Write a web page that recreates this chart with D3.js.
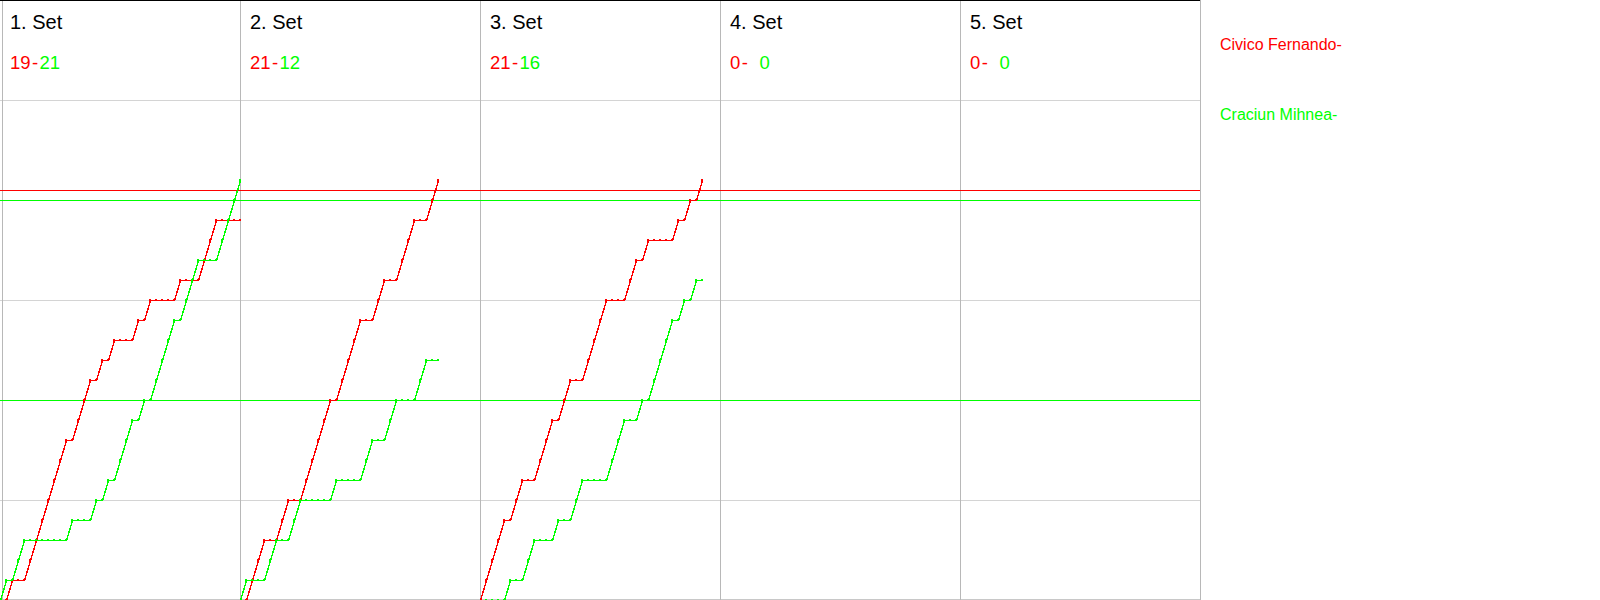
<!DOCTYPE html>
<html>
<head>
<meta charset="utf-8">
<script src="https://cdn.jsdelivr.net/npm/d3@7"></script>
<style>
  html, body { margin: 0; padding: 0; background: #fff; }
  svg { display: block; }
  text { font-family: "Liberation Sans", Arial, sans-serif; }
</style>
</head>
<body>
<svg id="chart" width="1600" height="600"></svg>
<script>
// ---- data ----
const setLabels = ["1. Set", "2. Set", "3. Set", "4. Set", "5. Set"];
const players = ["Civico Fernando-", "Craciun Mihnea-"];
const playerColors = ["#ff0000", "#00ff00"];
const scoresRed = ["19", "21", "21", "0", "0"];
const scoresGreen = ["21", "12", "16", "0", "0"];
// rally winners per set: R = Civico Fernando, G = Craciun Mihnea
const set1Rallies = "GRGGRRRRRRRGRRRGRGRGGGRGRGGGGRGGGRRRGGGG".split("");
const set2Rallies = "GRRRGGRRGGRRRRRGRRRRGGRRGGRRRGGRR".split("");
const set3Rallies = "RRRRGRRGGRRRGRRGGRRRRGGGRRGRGGGGRGRGR".split("");
const set4Rallies = [];
const set5Rallies = [];
const allRallies = [set1Rallies, set2Rallies, set3Rallies, set4Rallies, set5Rallies];
const redRefLines = [20.5];
const greenRefLines = [20, 10];
const gridScores = [5, 10, 15, 20, 25];

// ---- layout ----
const svg = d3.select("#chart");
const colW = 240, nCols = 5, plotW = colW * nCols;
const y = d3.scaleLinear().domain([0, 30]).range([600, 0]);
const colX = d3.scaleLinear().domain([0, nCols]).range([0, plotW]);

// horizontal gridlines
svg.append("g").selectAll("line").data(gridScores).join("line")
  .attr("x1", 0).attr("x2", plotW)
  .attr("y1", d => Math.round(y(d)) + 0.5).attr("y2", d => Math.round(y(d)) + 0.5)
  .attr("stroke", "#d4d4d4").attr("stroke-width", 1);
// bottom line
svg.append("line").attr("x1", 0).attr("x2", plotW).attr("y1", 599.5).attr("y2", 599.5)
  .attr("stroke", "#c8c8c8");
// vertical separators
svg.append("g").selectAll("line").data(d3.range(nCols + 1)).join("line")
  .attr("x1", d => d === 0 ? 2.5 : colX(d) + 0.5).attr("x2", d => d === 0 ? 2.5 : colX(d) + 0.5)
  .attr("y1", 0).attr("y2", 600)
  .attr("stroke", "#b8b8b8").attr("stroke-width", 1);
// top border
svg.append("line").attr("x1", 0).attr("x2", plotW).attr("y1", 0.5).attr("y2", 0.5)
  .attr("stroke", "#000");

// reference lines
svg.append("g").selectAll("line").data(redRefLines).join("line")
  .attr("x1", 0).attr("x2", plotW)
  .attr("y1", d => Math.round(y(d)) + 0.5).attr("y2", d => Math.round(y(d)) + 0.5)
  .attr("stroke", playerColors[0]);
svg.append("g").selectAll("line").data(greenRefLines).join("line")
  .attr("x1", 0).attr("x2", plotW)
  .attr("y1", d => Math.round(y(d)) + 0.5).attr("y2", d => Math.round(y(d)) + 0.5)
  .attr("stroke", playerColors[1]);

// headers
const hdr = svg.append("g");
setLabels.forEach((lab, i) => {
  const x0 = colX(i);
  hdr.append("text").attr("x", x0 + 10).attr("y", 29).attr("font-size", 20)
    .attr("fill", "#000").text(lab);
  const t = hdr.append("text").attr("x", x0 + 10).attr("y", 69).attr("font-size", 18.5)
    .attr("fill", playerColors[0]);
  t.append("tspan").text(scoresRed[i]);
  t.append("tspan").attr("dx", 1.5).text("-");
  hdr.append("text").attr("x", x0 + 39.5).attr("y", 69).attr("font-size", 18.5)
    .attr("fill", playerColors[1]).text(scoresGreen[i]);
});

// series
const series = svg.append("g");
allRallies.forEach((rallies, i) => {
  if (!rallies.length) return;
  const x = d3.scaleLinear().domain([0, 40]).range([colX(i), colX(i) + 240]);
  let r = 0, g = 0;
  const redPts = [[0, 0]], greenPts = [[0, 0]];
  rallies.forEach((w, k) => {
    if (w === "R") r++; else g++;
    redPts.push([k + 1, r]);
    greenPts.push([k + 1, g]);
  });
  const line = d3.line().x(d => x(d[0]) + 0.5).y(d => y(d[1]) + 0.5);
  [[redPts, playerColors[0]], [greenPts, playerColors[1]]].forEach(([pts, col]) => {
    series.append("path").attr("d", line(pts)).attr("fill", "none")
      .attr("stroke", col).attr("stroke-width", 1.4).attr("shape-rendering", "crispEdges");
    series.append("g").selectAll("rect").data(pts.slice(1)).join("rect")
      .attr("x", d => x(d[0]) - 1).attr("y", d => y(d[1]) - 1)
      .attr("width", 2).attr("height", 2).attr("fill", col)
      .attr("shape-rendering", "crispEdges");
  });
});

// legend
players.forEach((p, i) => {
  svg.append("text").attr("x", 1220).attr("y", i === 0 ? 50 : 120)
    .attr("font-size", 16).attr("fill", playerColors[i]).text(p);
});
</script>
</body>
</html>
